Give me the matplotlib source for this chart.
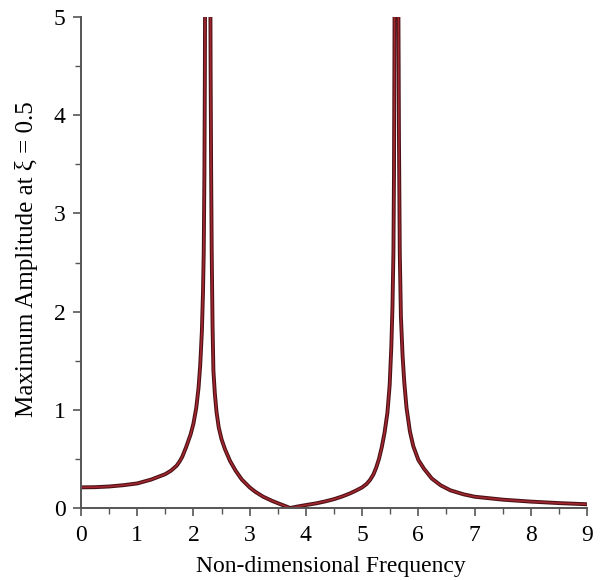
import matplotlib
matplotlib.use("Agg")
import matplotlib.pyplot as plt
import matplotlib.patheffects as pe
from matplotlib.ticker import MultipleLocator

# values (the two peaks run off the top)
freq = [0.0, 0.25, 0.5, 0.75, 1.0, 1.25, 1.5, 1.6, 1.7, 1.75, 1.8, 1.87, 1.95,
        2.0, 2.05, 2.09, 2.12, 2.15, 2.17, 2.183, 2.195, 2.203, 2.21, 2.22,
        2.235,
        2.27, 2.29, 2.297, 2.305, 2.315, 2.325, 2.34, 2.355, 2.38, 2.41, 2.45,
        2.5, 2.56, 2.65, 2.75, 2.86, 3.0, 3.1, 3.24, 3.4, 3.55, 3.65, 3.72,
        3.85, 4.0, 4.19, 4.35, 4.5, 4.65, 4.79, 4.9, 5.0, 5.08, 5.14, 5.2,
        5.25, 5.3, 5.35, 5.4, 5.45, 5.49, 5.52, 5.54, 5.557, 5.567, 5.575,
        5.585, 5.6,
        5.625, 5.638, 5.646, 5.655, 5.67, 5.69, 5.72, 5.75, 5.79, 5.85, 5.91,
        6.0, 6.1, 6.24, 6.4, 6.57, 6.8, 7.0, 7.5, 8.0, 8.5, 9.0]
amplitude = [0.21, 0.212, 0.219, 0.232, 0.25, 0.29, 0.345, 0.38, 0.43, 0.47,
             0.52, 0.62, 0.75, 0.86, 1.02, 1.22, 1.45, 1.8, 2.2, 2.6, 3.4,
             4.4, 5.8, 9.0, 20.0,
             20.0, 9.0, 6.0, 4.5, 3.4, 2.6, 1.85, 1.40, 1.17, 0.98, 0.82,
             0.70, 0.60, 0.48, 0.38, 0.29, 0.21, 0.165, 0.115, 0.072, 0.038,
             0.016, 0.0,
             0.015, 0.03, 0.048, 0.068, 0.09, 0.118, 0.15, 0.18, 0.21, 0.245,
             0.285, 0.34, 0.41, 0.50, 0.62, 0.77, 0.97, 1.25, 1.65, 2.05, 2.6,
             3.4, 4.6, 7.0, 20.0,
             20.0, 8.0, 5.0, 3.8, 2.6, 1.95, 1.55, 1.28, 1.02, 0.78, 0.63,
             0.49, 0.40, 0.30, 0.23, 0.18, 0.14, 0.115, 0.085, 0.065, 0.05,
             0.038]

plt.rcParams['font.family'] = ['Liberation Serif', 'DejaVu Serif']

fig = plt.figure(figsize=(6.03, 5.80), dpi=100)
ax = fig.add_axes([81 / 603, 72 / 580, 506 / 603, 491 / 580])

ax.plot(freq, amplitude, color='#a3262f', lw=1.2, solid_joinstyle='round',
        path_effects=[pe.Stroke(linewidth=2.8, foreground='#4a1216'), pe.Normal()])

ax.set_xlim(0, 9)
ax.set_ylim(0, 5)
ax.xaxis.set_major_locator(MultipleLocator(1))
ax.xaxis.set_minor_locator(MultipleLocator(0.5))
ax.yaxis.set_major_locator(MultipleLocator(1))
ax.yaxis.set_minor_locator(MultipleLocator(0.5))

for side in ['top', 'right']:
    ax.spines[side].set_visible(False)
for side in ['left', 'bottom']:
    ax.spines[side].set_color('#555555')
    ax.spines[side].set_linewidth(1.4)

ax.tick_params(which='major', direction='out', length=6, width=1.2,
               color='#555555', labelsize=17)
ax.tick_params(axis='x', which='major', pad=6)
ax.tick_params(axis='y', which='major', pad=5)
ax.tick_params(which='minor', direction='out', length=4, width=1.0,
               color='#555555')

ax.set_xlabel('Non-dimensional Frequency', fontsize=17, va='top')
ax.xaxis.set_label_coords(0.494, -0.098)
ax.set_ylabel('Maximum Amplitude at ξ = 0.5', fontsize=18)
ax.yaxis.set_label_coords(-0.084, 0.506)

fig.savefig('out.png', dpi=100)
